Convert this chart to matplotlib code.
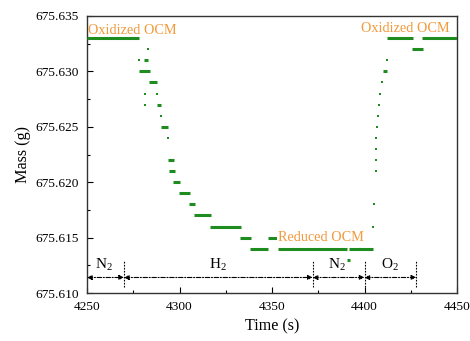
import matplotlib
matplotlib.use("Agg")
import matplotlib.pyplot as plt
from matplotlib.ticker import MultipleLocator, FormatStrFormatter

plt.rcParams['font.family'] = ['Liberation Serif', 'DejaVu Serif']
plt.rcParams['mathtext.fontset'] = 'custom'
plt.rcParams['mathtext.rm'] = 'Liberation Serif'
plt.rcParams['mathtext.it'] = 'Liberation Serif:italic'

# Constant-mass runs (start time, end time, mass)
seg_t0 = [4250, 4281, 4278, 4283.5, 4287.6, 4290, 4294, 4294.5, 4296.6, 4299.7, 4305, 4308,
          4316.3, 4332.7, 4338.3, 4347.6, 4353.4, 4391.6, 4390.7, 4410.2, 4412, 4425.5, 4431]
seg_t1 = [4278, 4283, 4284, 4288, 4290, 4294, 4297, 4297.4, 4300.2, 4305.7, 4308.4, 4316.8,
          4333, 4338.6, 4348, 4353.4, 4390.7, 4404.8, 4392, 4412, 4426, 4431.8, 4450]
seg_m = [675.633, 675.631, 675.630, 675.629, 675.627, 675.625, 675.622, 675.621, 675.620, 675.619,
         675.618, 675.617, 675.616, 675.615, 675.614, 675.615, 675.614, 675.614, 675.613,
         675.630, 675.633, 675.632, 675.633]

# Isolated samples
pts_t = [4283, 4278, 4281.5, 4287.6, 4281.5, 4290, 4294, 4404.8, 4405.3, 4406, 4406, 4406,
         4406.3, 4406.9, 4407.5, 4408, 4408.6, 4409.3, 4412]
pts_m = [675.632, 675.631, 675.628, 675.628, 675.627, 675.626, 675.624, 675.616, 675.618,
         675.621, 675.622, 675.623, 675.624, 675.625, 675.626, 675.627, 675.628, 675.629, 675.631]

# Gas stages
gas_bounds = [4250, 4270, 4372, 4400, 4428]
gas_labels = ['N$_2$', 'H$_2$', 'N$_2$', 'O$_2$']
gas_label_x = [4259, 4321, 4385, 4414]

green = '#1f8c1f'
orange = '#f29a3c'

fig = plt.figure(figsize=(4.7, 3.41), dpi=100)
ax = fig.add_axes([87/470, 1-293/341, 370/470, 277/341])

ax.hlines(seg_m, seg_t0, seg_t1, colors=green, linewidth=2.2, zorder=3)
ax.scatter(pts_t, pts_m, s=4, color=green, marker='s', linewidths=0, zorder=3)

arrow_y = 675.6114
for a, b in zip(gas_bounds[:-1], gas_bounds[1:]):
    ax.annotate('', xy=(b, arrow_y), xytext=(a, arrow_y),
                arrowprops=dict(arrowstyle='<|-|>', linestyle=(0, (4, 1.5, 1, 1.5)),
                                color='black', lw=0.8, mutation_scale=7,
                                shrinkA=0, shrinkB=0), zorder=4)
for xb in gas_bounds[1:]:
    ax.vlines(xb, 675.6105, 675.6130, colors='black', linestyles=(0, (1.5, 1.2)), linewidth=0.8)
for lx, lab in zip(gas_label_x, gas_labels):
    ax.text(lx, 675.6125, lab, ha='center', va='center', fontsize=11)

ax.text(4250.5, 675.6337, 'Oxidized OCM', color=orange, fontsize=10.3, ha='left', va='center')
ax.text(4398, 675.6339, 'Oxidized OCM', color=orange, fontsize=10.3, ha='left', va='center')
ax.text(4353, 675.6150, 'Reduced OCM', color=orange, fontsize=10.3, ha='left', va='center',
        bbox=dict(facecolor='white', edgecolor='none', pad=0.5), zorder=5)

ax.set_xlim(4250, 4450)
ax.set_ylim(675.610, 675.635)
ax.xaxis.set_major_locator(MultipleLocator(50))
ax.xaxis.set_minor_locator(MultipleLocator(25))
ax.yaxis.set_major_locator(MultipleLocator(0.005))
ax.yaxis.set_minor_locator(MultipleLocator(0.0025))
ax.yaxis.set_major_formatter(FormatStrFormatter('%.3f'))
ax.tick_params(which='both', direction='in', labelsize=9.6, top=False, right=False)
ax.tick_params(which='major', length=4, width=0.8, pad=6)
ax.tick_params(which='minor', length=2.5, width=0.8)
for s in ax.spines.values():
    s.set_linewidth(1.0)
    s.set_color('#333333')

ax.set_xlabel('Time (s)', fontsize=11.6, labelpad=4)
ax.set_ylabel('Mass (g)', fontsize=11.6, labelpad=3)

fig.savefig('out.png', dpi=100)
